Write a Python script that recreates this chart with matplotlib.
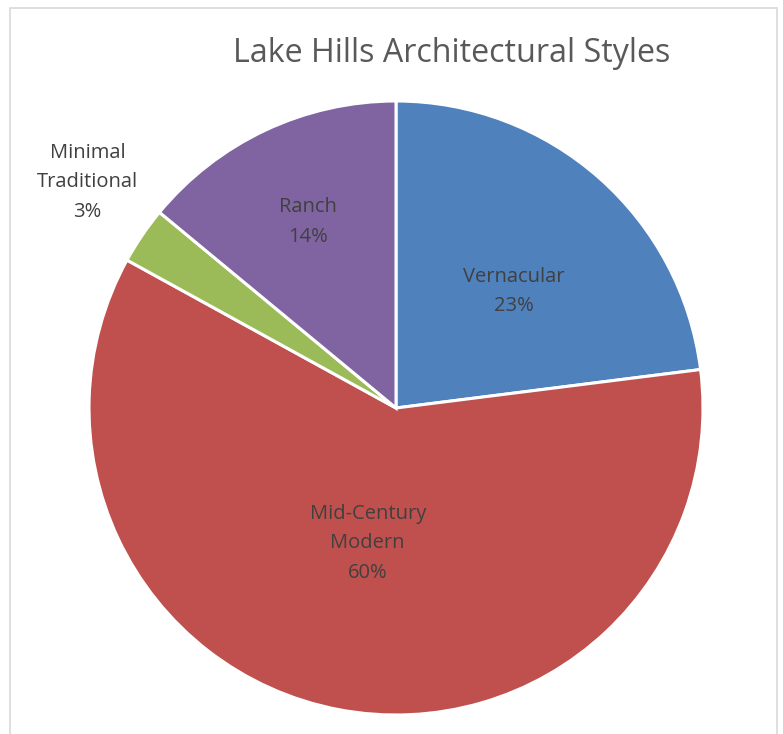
import matplotlib.pyplot as plt
from matplotlib.patches import Rectangle
import numpy as np

styles = ['Vernacular', 'Mid-Century\nModern', 'Minimal\nTraditional', 'Ranch']
shares = [23, 60, 3, 14]
colors = ['#4F81BD', '#C0504D', '#9BBB59', '#8064A2']
# label placement: fraction of the radius, and a nudge off the wedge's mid-angle
label_dist = [0.54, 0.45, 1.245, 0.67]
label_turn = [-4.0, -1.0, -2.0, 0.0]

plt.rcParams['font.family'] = ['Open Sans', 'DejaVu Sans']

fig = plt.figure(figsize=(7.83, 7.34), dpi=100)
fig.patches.append(Rectangle((10 / 783, -0.1), 767 / 783, 1.1 - 8 / 734,
                             transform=fig.transFigure, fill=False,
                             edgecolor='#d9d9d9', linewidth=1.2))

ax = fig.add_axes([(396 - 307) / 783, (734 - 408 - 307) / 734, 614 / 783, 614 / 734])
wedges, _ = ax.pie(shares, colors=colors, startangle=90, counterclock=False,
                   radius=1.0,
                   wedgeprops=dict(edgecolor='white', linewidth=2.2))

for w, name, pct, d, turn in zip(wedges, styles, shares, label_dist, label_turn):
    ang = np.deg2rad((w.theta1 + w.theta2) / 2 + turn)
    ax.text(d * np.cos(ang), d * np.sin(ang), f'{name}\n{pct}%',
            ha='center', va='center', fontsize=14.5, color='#404040',
            linespacing=1.62)

ax.set_xlim(-1, 1)
ax.set_ylim(-1, 1)
ax.set_aspect('equal')
ax.axis('off')

fig.text(452 / 783, 1 - 53 / 734, 'Lake Hills Architectural Styles',
         ha='center', va='center', fontsize=23.2, color='#595959')

fig.savefig('out.png', dpi=100)
